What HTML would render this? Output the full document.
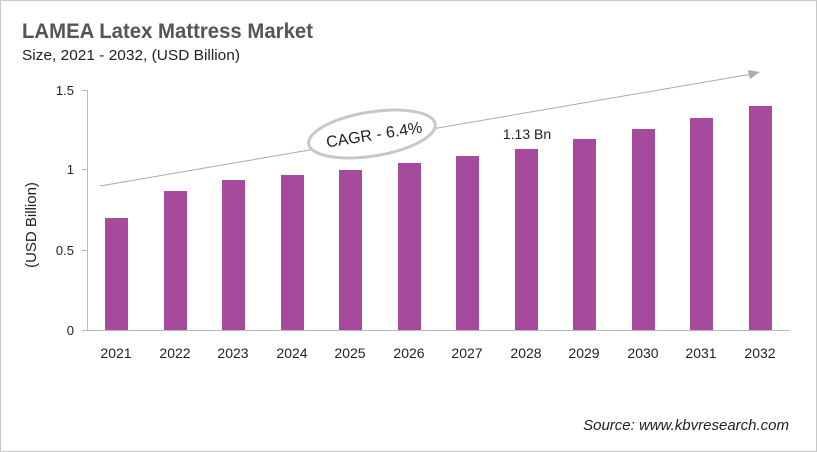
<!DOCTYPE html>
<html><head><style>
body{margin:0;background:#fff;}
svg{display:block;font-family:"Liberation Sans",sans-serif;}
</style></head><body>
<svg width="817" height="452" xmlns="http://www.w3.org/2000/svg">
<rect x="0.5" y="0.5" width="816" height="451" fill="#fff" stroke="#c8c8c8"/>
<text x="22" y="38" font-size="21" font-weight="bold" fill="#555" textLength="291" lengthAdjust="spacingAndGlyphs">LAMEA Latex Mattress Market</text>
<text x="22" y="60" font-size="15" fill="#222" textLength="218" lengthAdjust="spacingAndGlyphs">Size, 2021 - 2032, (USD Billion)</text>
<g stroke="#bbb" stroke-width="1">
<line x1="87.5" y1="90" x2="87.5" y2="330"/>
<line x1="82" y1="90.5" x2="87" y2="90.5"/>
<line x1="82" y1="169.5" x2="87" y2="169.5"/>
<line x1="82" y1="250.5" x2="87" y2="250.5"/>
<line x1="82" y1="330.5" x2="87" y2="330.5"/>
<line x1="87" y1="330.5" x2="790" y2="330.5"/>
</g>
<g font-size="13" fill="#222" text-anchor="end">
<text x="74" y="95">1.5</text><text x="74" y="174">1</text><text x="74" y="255">0.5</text><text x="74" y="335">0</text>
</g>
<text transform="translate(36,225) rotate(-90)" font-size="15" text-anchor="middle" fill="#222">(USD Billion)</text>
<line x1="100" y1="186" x2="752" y2="74" stroke="#aaa" stroke-width="1"/>
<polygon points="760,72 748,70 750,79" fill="#aaa"/>
<g fill="#a64a9e">
<rect x="105" y="218" width="23" height="112"/>
<rect x="164" y="191" width="23" height="139"/>
<rect x="222" y="180" width="23" height="150"/>
<rect x="281" y="175" width="23" height="155"/>
<rect x="339" y="170" width="23" height="160"/>
<rect x="398" y="163" width="23" height="167"/>
<rect x="456" y="156" width="23" height="174"/>
<rect x="515" y="149" width="23" height="181"/>
<rect x="573" y="139" width="23" height="191"/>
<rect x="632" y="129" width="23" height="201"/>
<rect x="690" y="118" width="23" height="212"/>
<rect x="749" y="106" width="23" height="224"/>
</g>
<g font-size="14" fill="#222" text-anchor="middle">
<text x="116" y="358">2021</text><text x="175" y="358">2022</text><text x="233" y="358">2023</text><text x="292" y="358">2024</text><text x="350" y="358">2025</text><text x="409" y="358">2026</text><text x="467" y="358">2027</text><text x="526" y="358">2028</text><text x="584" y="358">2029</text><text x="643" y="358">2030</text><text x="701" y="358">2031</text><text x="760" y="358">2032</text>
</g>
<text x="527" y="139" font-size="14" text-anchor="middle" fill="#222">1.13 Bn</text>
<ellipse cx="372" cy="134" rx="64" ry="22" fill="#fff" stroke="#c8c8c8" stroke-width="3" transform="rotate(-9 372 134)"/>
<text x="374" y="140" font-size="16" text-anchor="middle" fill="#222" transform="rotate(-9 374 134)">CAGR - 6.4%</text>
<text x="789" y="430" font-size="15" font-style="italic" text-anchor="end" fill="#222">Source: www.kbvresearch.com</text>
</svg>
</body></html>
